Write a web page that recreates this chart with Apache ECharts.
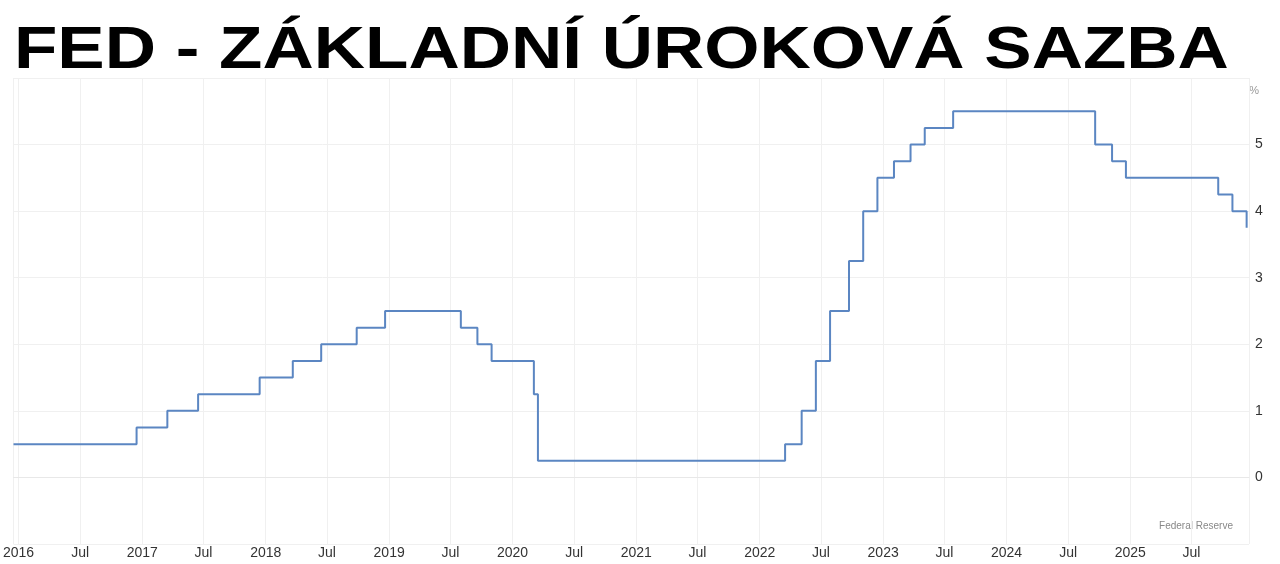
<!DOCTYPE html>
<html>
<head>
<meta charset="utf-8">
<script src="https://cdn.jsdelivr.net/npm/echarts@6/dist/echarts.min.js"></script>
<style>
  html, body { margin: 0; padding: 0; background: #fff; }
  #chart-container { width: 1280px; height: 564px; }
</style>
</head>
<body>
<div id="chart-container"></div>
<script>
// Fed upper bound rate, date of each change
var rateDates = [
  '2015-12-17', '2016-12-15', '2017-03-16', '2017-06-15', '2017-12-14',
  '2018-03-22', '2018-06-14', '2018-09-27', '2018-12-20', '2019-08-01',
  '2019-09-19', '2019-10-31', '2020-03-04', '2020-03-16', '2022-03-17',
  '2022-05-05', '2022-06-16', '2022-07-28', '2022-09-22', '2022-11-03',
  '2022-12-15', '2023-02-02', '2023-03-23', '2023-05-04', '2023-07-27',
  '2024-09-19', '2024-11-08', '2024-12-19', '2025-09-18', '2025-10-30',
  '2025-12-11'
];
var rateValues = [
  0.5, 0.75, 1.0, 1.25, 1.5,
  1.75, 2.0, 2.25, 2.5, 2.25,
  2.0, 1.75, 1.25, 0.25, 0.5,
  1.0, 1.75, 2.5, 3.25, 4.0,
  4.5, 4.75, 5.0, 5.25, 5.5,
  5.0, 4.75, 4.5, 4.25, 4.0,
  3.75
];
var axisStart = '2015-12-17';
var axisEnd = '2025-12-18';
var yTicks = [0, 1, 2, 3, 4, 5];

var seriesData = rateDates.map(function (d, i) {
  return [d, rateValues[i]];
});

var myChart = echarts.init(document.getElementById('chart-container'));
var HALF_YEAR = 182 * 24 * 3600 * 1000;

var option = {
  useUTC: true,
  animation: false,
  backgroundColor: '#fff',
  grid: {
    left: 13,
    right: 31,
    top: 78,
    bottom: 20,
    containLabel: false
  },
  xAxis: {
    type: 'time',
    min: axisStart,
    max: axisEnd,
    minInterval: HALF_YEAR,
    maxInterval: HALF_YEAR,
    splitNumber: 20,
    axisLine: { show: true, lineStyle: { color: '#e8e8e8' } },
    axisTick: { show: false },
    splitLine: { show: true, lineStyle: { color: '#f0f0f0', width: 1 } },
    axisLabel: {
      showMinLabel: false,
      showMaxLabel: false,
      color: '#333',
      fontSize: 14,
      fontFamily: '"Liberation Sans", Arial, sans-serif',
      margin: 2,
      formatter: function (val) {
        var d = new Date(val);
        return d.getUTCMonth() === 0 ? String(d.getUTCFullYear()) : 'Jul';
      }
    }
  },
  yAxis: {
    type: 'value',
    position: 'right',
    min: -1,
    max: 6,
    interval: 1,
    axisLine: { show: false },
    axisTick: { show: false },
    splitLine: { show: true, lineStyle: { color: '#f0f0f0', width: 1 } },
    axisLabel: {
      color: '#333',
      fontSize: 14,
      margin: 6,
      fontFamily: '"Liberation Sans", Arial, sans-serif',
      formatter: function (v) {
        return yTicks.indexOf(v) >= 0 ? String(v) : '';
      }
    }
  },
  graphic: [
    {
      // title, slightly squashed vertically like the original
      type: 'text',
      x: 14,
      y: 22,
      scaleY: 0.84,
      style: {
        text: 'FED - ZÁKLADNÍ ÚROKOVÁ SAZBA',
        fill: '#000',
        fontSize: 71,
        fontWeight: 'bold',
        fontFamily: '"Liberation Sans", Arial, sans-serif',
        verticalAlign: 'top'
      }
    },
    {
      type: 'text',
      right: 21,
      top: 85,
      style: {
        text: '%',
        fill: '#999',
        fontSize: 11,
        fontFamily: '"Liberation Sans", Arial, sans-serif'
      }
    },
    {
      type: 'text',
      right: 47,
      top: 521,
      style: {
        text: 'Federal Reserve',
        fill: '#888',
        fontSize: 10,
        fontFamily: '"Liberation Sans", Arial, sans-serif'
      }
    }
  ],
  series: [
    {
      type: 'line',
      step: 'end',
      showSymbol: false,
      symbol: 'none',
      lineStyle: { color: '#5b86c2', width: 2 },
      data: seriesData
    }
  ]
};

myChart.setOption(option);
</script>
</body>
</html>
